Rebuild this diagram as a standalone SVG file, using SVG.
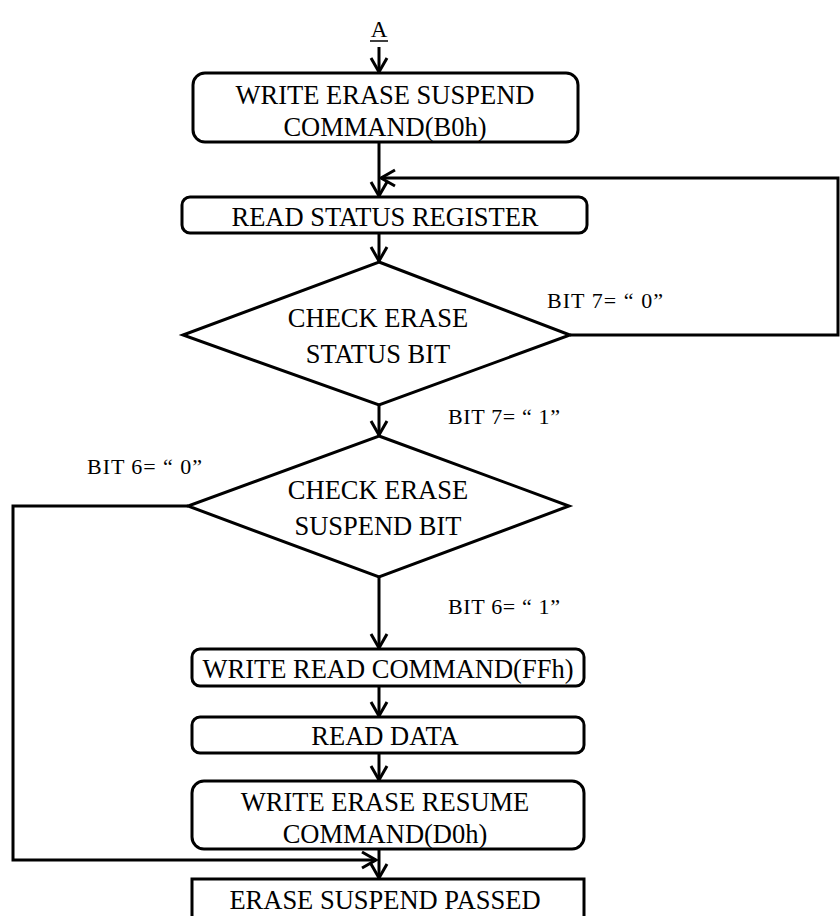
<svg xmlns="http://www.w3.org/2000/svg" width="840" height="916" viewBox="0 0 840 916">
  <style>
    .box { fill: #fff; stroke: #000; stroke-width: 3; }
    .ln { fill: none; stroke: #000; stroke-width: 3; }
    .t { font-family: "Liberation Serif", "Times New Roman", serif; font-size: 26.5px; fill: #000; text-anchor: middle; }
    .lbl { font-family: "Liberation Serif", "Times New Roman", serif; font-size: 22px; fill: #000; }
  </style>
  <defs>
    <marker id="arr" markerUnits="userSpaceOnUse" markerWidth="24" markerHeight="24" viewBox="-16 -12 24 24" refX="0" refY="0" orient="auto" overflow="visible">
      <path d="M-14,-8 L0,0 L-14,8" fill="none" stroke="#000" stroke-width="3"/>
    </marker>
  </defs>

  <!-- connector A -->
  <g id="start">
    <text class="t" x="379" y="37" style="font-size:23px">A</text>
    <line x1="370" y1="41" x2="388" y2="41" stroke="#000" stroke-width="1.5"/>
  </g>

  <g id="connectors">
    <line class="ln" x1="379" y1="47" x2="379" y2="72" marker-end="url(#arr)"/>
    <line class="ln" x1="379" y1="142" x2="379" y2="196" marker-end="url(#arr)"/>
    <line class="ln" x1="379" y1="233" x2="379" y2="261" marker-end="url(#arr)"/>
    <polyline class="ln" points="570,335 838,335 838,178 381,178" marker-end="url(#arr)"/>
    <line class="ln" x1="379" y1="405" x2="379" y2="435" marker-end="url(#arr)"/>
    <line class="ln" x1="379" y1="577" x2="379" y2="648" marker-end="url(#arr)"/>
    <polyline class="ln" points="188,506 13,506 13,860 376,860" marker-end="url(#arr)"/>
    <line class="ln" x1="379" y1="686" x2="379" y2="716" marker-end="url(#arr)"/>
    <line class="ln" x1="379" y1="753" x2="379" y2="780" marker-end="url(#arr)"/>
    <line class="ln" x1="379" y1="849" x2="379" y2="878" marker-end="url(#arr)"/>
  </g>

  <g id="write-suspend">
    <rect class="box" x="193" y="73" width="385" height="69" rx="12"/>
    <text class="t" x="385" y="104">WRITE ERASE SUSPEND</text>
    <text class="t" x="385" y="136">COMMAND(B0h)</text>
  </g>

  <g id="read-status">
    <rect class="box" x="182" y="197" width="405" height="36" rx="8"/>
    <text class="t" x="385" y="226">READ STATUS REGISTER</text>
  </g>

  <g id="check-status">
    <polygon class="box" points="379,262 570,335 379,405 183,335"/>
    <text class="t" x="378" y="327">CHECK ERASE</text>
    <text class="t" x="378" y="363">STATUS BIT</text>
  </g>
  <text class="lbl" x="547" y="308" textLength="116">BIT 7= “ 0”</text>
  <text class="lbl" x="448" y="424" textLength="112">BIT 7= “ 1”</text>

  <g id="check-suspend">
    <polygon class="box" points="379,436 569,506 379,577 188,506"/>
    <text class="t" x="378" y="499">CHECK ERASE</text>
    <text class="t" x="378" y="535">SUSPEND BIT</text>
  </g>
  <text class="lbl" x="87" y="474" textLength="115">BIT 6= “ 0”</text>
  <text class="lbl" x="448" y="614" textLength="112">BIT 6= “ 1”</text>

  <g id="write-read">
    <rect class="box" x="192" y="649" width="392" height="37" rx="8"/>
    <text class="t" x="388" y="678">WRITE READ COMMAND(FFh)</text>
  </g>

  <g id="read-data">
    <rect class="box" x="192" y="717" width="392" height="36" rx="8"/>
    <text class="t" x="385" y="745">READ DATA</text>
  </g>

  <g id="write-resume">
    <rect class="box" x="192" y="781" width="392" height="68" rx="12"/>
    <text class="t" x="385" y="811">WRITE ERASE RESUME</text>
    <text class="t" x="385" y="843">COMMAND(D0h)</text>
  </g>

  <g id="suspend-passed">
    <rect class="box" x="192" y="879" width="392" height="40"/>
    <text class="t" x="385" y="909">ERASE SUSPEND PASSED</text>
  </g>
</svg>
